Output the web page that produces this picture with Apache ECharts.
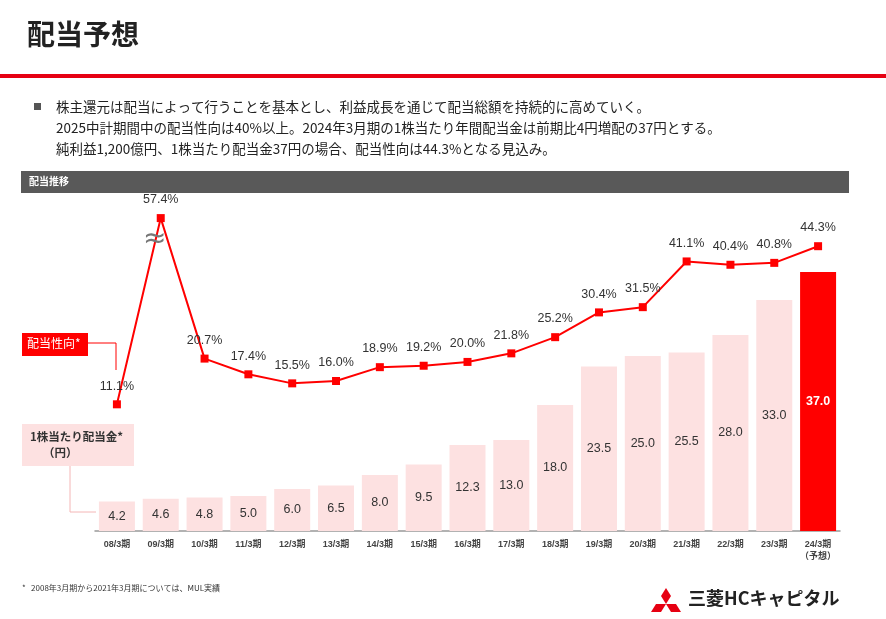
<!DOCTYPE html>
<html><head><meta charset="utf-8">
<script src="https://cdn.jsdelivr.net/npm/echarts@6/dist/echarts.min.js"></script>
<style>html,body{margin:0;padding:0;background:#fff}#c{width:886px;height:619px}</style>
</head><body><div id="c"></div>
<script>
var categories = ['08/3期','09/3期','10/3期','11/3期','12/3期','13/3期','14/3期','15/3期','16/3期','17/3期','18/3期','19/3期','20/3期','21/3期','22/3期','23/3期','24/3期\n（予想）'];
var dividends = [4.2,4.6,4.8,5.0,6.0,6.5,8.0,9.5,12.3,13.0,18.0,23.5,25.0,25.5,28.0,33.0,37.0];
var payoutRatio = [11.1,57.4,20.7,17.4,15.5,16.0,18.9,19.2,20.0,21.8,25.2,30.4,31.5,41.1,40.4,40.8,44.3];
var breakValue = 50.2; // 57.4% は波線で省略して描く

var font = '"Liberation Sans", "Noto Sans CJK JP", sans-serif';
var jfont = '"Noto Sans CJK JP", sans-serif';
var myChart = echarts.init(document.getElementById('c'));
var option = {
    textStyle: {fontFamily: font},
    animation: false,
    grid: {left: 95, right: 46, top: 200, bottom: 88},
    xAxis: {
        type: 'category',
        data: categories,
        axisLine: {lineStyle: {color: '#999', width: 1.5}},
        axisTick: {show: false},
        axisLabel: {color: '#444', fontSize: 9, fontWeight: 'bold', interval: 0, lineHeight: 12, fontFamily: font}
    },
    yAxis: [
        {type: 'value', min: 0, max: 47.3, show: false, splitLine: {show: false}},
        {type: 'value', min: -15.5, max: 54, show: false, splitLine: {show: false}}
    ],
    series: [
        {
            type: 'bar',
            barWidth: 36,
            data: dividends.map(function (v, i) {
                var last = i === dividends.length - 1;
                return {
                    value: v,
                    itemStyle: {color: last ? '#ff0000' : '#fde1e1'},
                    label: {color: last ? '#fff' : '#333', fontWeight: last ? 'bold' : 'normal'}
                };
            }),
            label: {show: true, position: 'inside', fontSize: 12.5, fontFamily: font, formatter: function (p) { return p.value.toFixed(1); }}
        },
        {
            type: 'line',
            yAxisIndex: 1,
            data: payoutRatio.map(function (v) { return v > 50 ? breakValue : v; }),
            symbol: 'rect',
            symbolSize: 8,
            z: 5,
            lineStyle: {color: '#ff0000', width: 2},
            itemStyle: {color: '#ff0000'},
            label: {
                show: true, position: 'top', distance: 8, color: '#333', fontSize: 12.5, fontFamily: font,
                formatter: function (p) { return payoutRatio[p.dataIndex].toFixed(1) + '%'; }
            }
        }
    ],
    graphic: [
        {type: 'text', left: 27, top: 20, style: {text: '配当予想', fontSize: 28, fontWeight: 'bold', fill: '#222', fontFamily: jfont}},
        {type: 'rect', shape: {x: 0, y: 74, width: 886, height: 4}, style: {fill: '#e60012'}},
        {type: 'rect', shape: {x: 34, y: 103, width: 7, height: 7}, style: {fill: '#555'}},
        {type: 'text', left: 56, top: 96, style: {
            text: '株主還元は配当によって行うことを基本とし、利益成長を通じて配当総額を持続的に高めていく。\n2025中計期間中の配当性向は40%以上。2024年3月期の1株当たり年間配当金は前期比4円増配の37円とする。\n純利益1,200億円、1株当たり配当金37円の場合、配当性向は44.3%となる見込み。',
            fontSize: 13.5, lineHeight: 21, fill: '#222', fontFamily: jfont}},
        {type: 'rect', shape: {x: 21, y: 171, width: 828, height: 22}, style: {fill: '#595959'}},
        {type: 'text', left: 29, top: 176, style: {text: '配当推移', fontSize: 10, fontWeight: 'bold', fill: '#fff', fontFamily: jfont}},
        {type: 'text', left: 143, top: 226, z: 10, style: {text: '≈', fontSize: 28, fill: '#777', fontFamily: 'DejaVu Sans'}},
        {type: 'rect', shape: {x: 22, y: 333, width: 66, height: 23}, style: {fill: '#ff0000'}},
        {type: 'text', left: 27, top: 337, style: {text: '配当性向*', fontSize: 12, fill: '#fff', fontFamily: jfont}},
        {type: 'polyline', shape: {points: [[88, 343], [116, 343], [116, 370]]}, style: {stroke: '#ff0000', lineWidth: 1, fill: null}},
        {type: 'rect', shape: {x: 22, y: 424, width: 112, height: 42}, style: {fill: '#fde1e1'}},
        {type: 'text', left: 30, top: 429, style: {text: '1株当たり配当金*\n     （円）', fontSize: 11.5, fontWeight: 'bold', lineHeight: 16, fill: '#333', fontFamily: jfont}},
        {type: 'polyline', shape: {points: [[70, 466], [70, 512], [96, 512]]}, style: {stroke: '#f4b6b6', lineWidth: 1, fill: null}},
        {type: 'text', left: 22, top: 584, style: {text: '*   2008年3月期から2021年3月期については、MUL実績', fontSize: 8, fill: '#333', fontFamily: jfont}},
        {type: 'polygon', shape: {points: [[666, 588], [661, 596], [666, 604], [671, 596]]}, style: {fill: '#e60012'}},
        {type: 'polygon', shape: {points: [[666, 604], [656, 604], [651, 612], [661, 612]]}, style: {fill: '#e60012'}},
        {type: 'polygon', shape: {points: [[666, 604], [676, 604], [681, 612], [671, 612]]}, style: {fill: '#e60012'}},
        {type: 'text', left: 688, top: 589, style: {text: '三菱HCキャピタル', fontSize: 18, fontWeight: 'bold', fill: '#222', fontFamily: jfont}}
    ]
};
myChart.setOption(option);
</script>
</body></html>
